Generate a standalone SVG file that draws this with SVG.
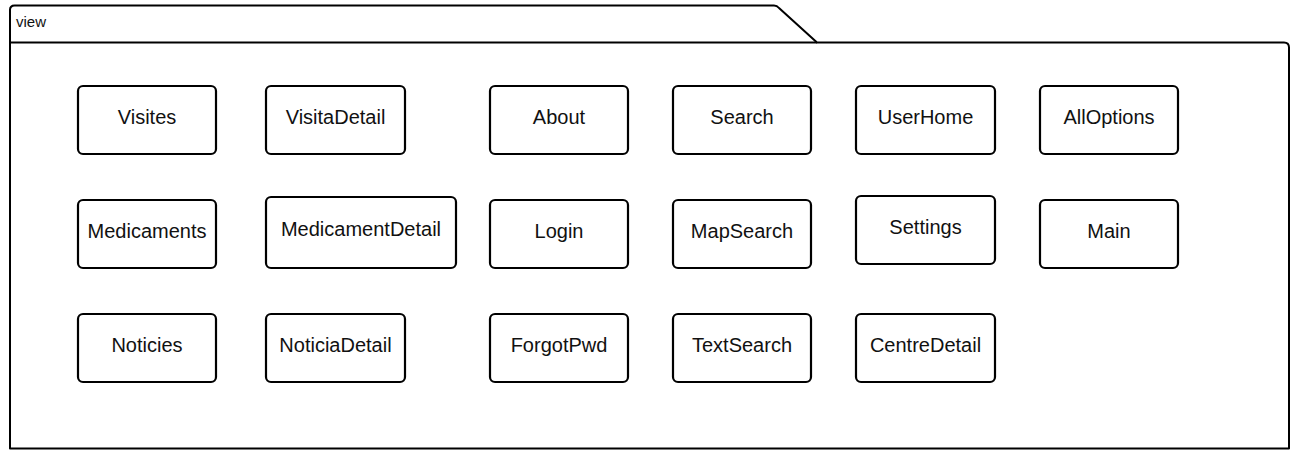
<svg xmlns="http://www.w3.org/2000/svg" width="1290" height="450" viewBox="0 0 1290 450">
  <style>
    .frame { fill: #ffffff; stroke: #000000; stroke-width: 2; stroke-linejoin: round; }
    .box { fill: #ffffff; stroke: #000000; stroke-width: 2.2; }
    .lbl { font-family: "Liberation Sans", Arial, sans-serif; font-size: 20px; fill: #111111; text-anchor: middle; }
    .pkg { font-family: "Liberation Sans", Arial, sans-serif; font-size: 15px; fill: #111111; }
  </style>
  <rect width="1290" height="450" fill="#ffffff"/>

  <!-- package frame "view" -->
  <g id="view">
    <path class="frame" d="M10,448.5 L10,10 Q10,5.5 14.5,5.5 L774,5.5 Q777,5.5 779,8 L817,42.5 L1284,42.5 Q1289,42.5 1289,47.5 L1289,448.5 Z"/>
    <line class="frame" x1="10" y1="42.5" x2="817" y2="42.5"/>
    <text class="pkg" x="16" y="27">view</text>
  </g>

  <!-- row 1 -->
  <g id="Visites"><rect class="box" x="78" y="86" width="138" height="68" rx="5"/><text class="lbl" x="147" y="124">Visites</text></g>
  <g id="VisitaDetail"><rect class="box" x="266" y="86" width="139" height="68" rx="5"/><text class="lbl" x="335.5" y="124">VisitaDetail</text></g>
  <g id="About"><rect class="box" x="490" y="86" width="138" height="68" rx="5"/><text class="lbl" x="559" y="124">About</text></g>
  <g id="Search"><rect class="box" x="673" y="86" width="138" height="68" rx="5"/><text class="lbl" x="742" y="124">Search</text></g>
  <g id="UserHome"><rect class="box" x="856" y="86" width="139" height="68" rx="5"/><text class="lbl" x="925.5" y="124">UserHome</text></g>
  <g id="AllOptions"><rect class="box" x="1040" y="86" width="138" height="68" rx="5"/><text class="lbl" x="1109" y="124">AllOptions</text></g>

  <!-- row 2 -->
  <g id="Medicaments"><rect class="box" x="78" y="200" width="138" height="68" rx="5"/><text class="lbl" x="147" y="238">Medicaments</text></g>
  <g id="MedicamentDetail"><rect class="box" x="266" y="197" width="190" height="71" rx="5"/><text class="lbl" x="361" y="236">MedicamentDetail</text></g>
  <g id="Login"><rect class="box" x="490" y="200" width="138" height="68" rx="5"/><text class="lbl" x="559" y="238">Login</text></g>
  <g id="MapSearch"><rect class="box" x="673" y="200" width="138" height="68" rx="5"/><text class="lbl" x="742" y="238">MapSearch</text></g>
  <g id="Settings"><rect class="box" x="856" y="196" width="139" height="68" rx="5"/><text class="lbl" x="925.5" y="234">Settings</text></g>
  <g id="Main"><rect class="box" x="1040" y="200" width="138" height="68" rx="5"/><text class="lbl" x="1109" y="238">Main</text></g>

  <!-- row 3 -->
  <g id="Noticies"><rect class="box" x="78" y="314" width="138" height="68" rx="5"/><text class="lbl" x="147" y="352">Noticies</text></g>
  <g id="NoticiaDetail"><rect class="box" x="266" y="314" width="139" height="68" rx="5"/><text class="lbl" x="335.5" y="352">NoticiaDetail</text></g>
  <g id="ForgotPwd"><rect class="box" x="490" y="314" width="138" height="68" rx="5"/><text class="lbl" x="559" y="352">ForgotPwd</text></g>
  <g id="TextSearch"><rect class="box" x="673" y="314" width="138" height="68" rx="5"/><text class="lbl" x="742" y="352">TextSearch</text></g>
  <g id="CentreDetail"><rect class="box" x="856" y="314" width="139" height="68" rx="5"/><text class="lbl" x="925.5" y="352">CentreDetail</text></g>

  <!-- no connectors in this package view -->
  <g id="connectors"/>
</svg>
